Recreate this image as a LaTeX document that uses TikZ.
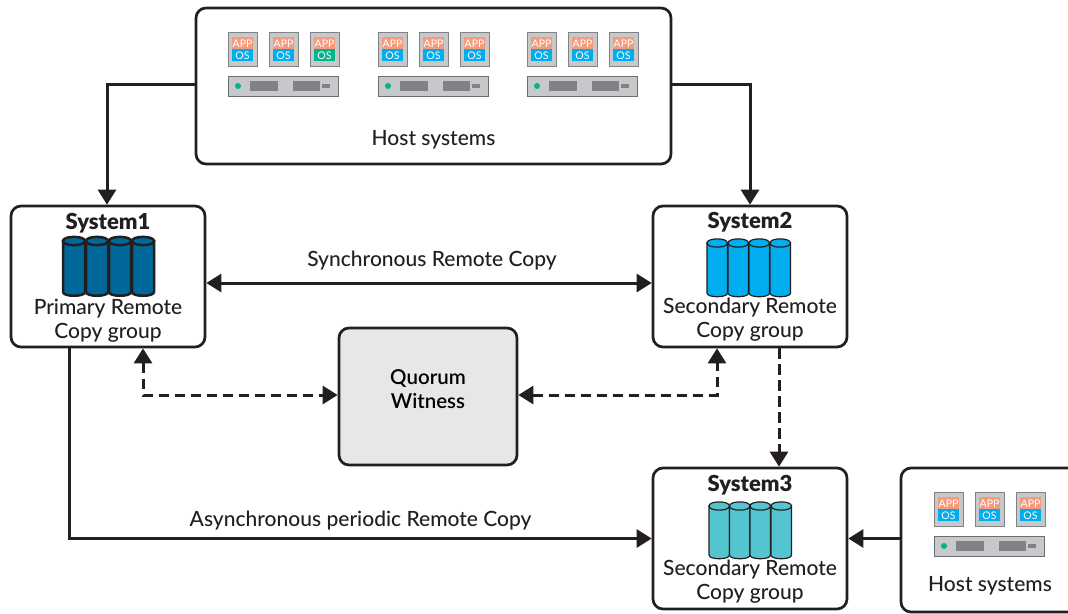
\documentclass[tikz,border=0pt]{standalone}
\usepackage{fontspec}
\setmainfont{Lato}
\newfontfamily\blk{Lato Black}
\newfontfamily\med{Lato Medium}
\newfontfamily\semi{Lato Semibold}
\usetikzlibrary{arrows.meta}
\definecolor{ink}{HTML}{231F20}
\definecolor{appc}{HTML}{F79A7C}
\definecolor{osc}{HTML}{00AEEF}
\definecolor{osg}{HTML}{00B48D}
\definecolor{ic}{HTML}{C6C8CA}
\definecolor{icb}{HTML}{808285}
\definecolor{qc}{HTML}{E6E7E8}
\definecolor{cylA}{HTML}{01689B}
\definecolor{cylC}{HTML}{54C5D0}
\tikzset{
  x=1pt,y=-1pt,
  boxn/.style={draw=ink,line width=2.7pt,rounded corners=10pt,fill=white,inner sep=0pt},
  lab/.style={text=ink,font=\med\fontsize{21}{24}\selectfont,align=center,inner sep=0pt},
  qlab/.style={text=black,font=\semi\fontsize{20.5}{24}\selectfont,align=center,inner sep=0pt},
  tit/.style={text=ink,font=\blk\fontsize{22}{24}\selectfont,align=center,inner sep=0pt},
  conn/.style={draw=ink,line width=3pt,-{Triangle[length=15pt,width=18pt]}},
  conn2/.style={draw=ink,line width=3pt,{Triangle[length=15pt,width=18pt]}-{Triangle[length=15pt,width=18pt]}},
  dconn/.style={conn,dash pattern=on 10.5pt off 5.5pt},
  dconn2/.style={conn2,dash pattern=on 10.5pt off 5.5pt},
  icotxt/.style={text=white,font=\fontsize{10.5}{11}\selectfont,inner sep=0pt},
  app/.pic={
    \fill[ic,draw=icb,line width=1pt] (0,0) rectangle (29,34);
    \fill[appc] (4,5) rectangle (25,17);
    \fill[#1] (4,17) rectangle (25,29);
    \node[icotxt] at (14.5,11.3) {APP};
    \node[icotxt] at (14.5,23.3) {OS};
  },
  server/.pic={
    \fill[ic,draw=icb!85!black,line width=1pt] (0,0) rectangle (110.5,20);
    \fill[osg] (10,10) circle[radius=3pt];
    \fill[icb] (22,5) rectangle (50,15);
    \fill[icb] (65,5) rectangle (92,15);
    \fill[icb] (94,8) rectangle (102,12);
  }
}
\newcommand\cyl[6]{% x, top y, width, height, fill, line width
  \path[draw=ink,fill=#5,line width=#6pt]
    (#1,#2) -- (#1,#2+#4) .. controls (#1,#2+#4+5) and (#1+#3,#2+#4+5) .. (#1+#3,#2+#4) -- (#1+#3,#2) -- cycle;
  \path[draw=ink,fill=#5,line width=#6pt] (#1,#2) .. controls (#1,#2-5.5) and (#1+#3,#2-5.5) .. (#1+#3,#2)
    .. controls (#1+#3,#2+5.5) and (#1,#2+5.5) .. (#1,#2) -- cycle;
}
\begin{document}
\begin{tikzpicture}
\useasboundingbox (0,0) rectangle (1068,613);
% boxes
\node[boxn,minimum width=475pt,minimum height=156pt] (hosttop) at (433.5,86) {};
\node[boxn,minimum width=194pt,minimum height=141pt] (s1) at (108,276.5) {};
\node[boxn,minimum width=194pt,minimum height=141pt] (s2) at (750,276.5) {};
\node[boxn,minimum width=194pt,minimum height=141pt] (s3) at (750,538.5) {};
\node[boxn,fill=qc,minimum width=178pt,minimum height=137pt] (q) at (428,396.5) {};
\node[boxn,minimum width=200pt,minimum height=144pt] (hostb) at (1001,540) {};
% connectors
\draw[conn] ([yshift=2pt]hosttop.west) -| ([xshift=-1pt]s1.north);
\draw[conn] ([yshift=2pt]hosttop.east) -| (s2.north);
\draw[conn2] ([yshift=-6.5pt]s1.east) -- ([yshift=-6.5pt]s2.west);
\draw[dconn2] ([xshift=35pt]s1.south) |- ([yshift=1.5pt]q.west);
\draw[dconn2] ([yshift=1.5pt]q.east) -| ([xshift=-33pt]s2.south);
\draw[dconn] ([xshift=29pt]s2.south) -- ([xshift=29pt]s3.north);
\draw[conn] ([xshift=-39pt]s1.south) |- (s3.west);
\draw[conn] (hostb.west |- s3.west) -- (s3.east);
% labels
\node[lab] (lsync) at (432,261) {Synchronous Remote Copy};
\node[lab] (lasync) at (360.5,521) {Asynchronous periodic Remote Copy};
\node[lab] (lh1) at (433.5,140) {Host systems};
\node[lab] (lh2) at (990,586) {Host systems};
\node[qlab] (lq) at (428,389) {Quorum\\Witness};
\node[tit] (t1) at (108,223) {System1};
\node[tit] (t2) at (750,222) {System2};
\node[tit] (t3) at (750,485) {System3};
\node[lab] (l1) at (108,321) {Primary Remote\\Copy group};
\node[lab] (l2) at (750,320) {Secondary Remote\\Copy group};
\node[lab] (l3) at (750,582) {Secondary Remote\\Copy group};
% cylinders
\foreach \x in {63,86,109,132} {\cyl{\x}{241}{22}{51}{cylA}{2.5}}
\foreach \x in {707,728,749,770} {\cyl{\x}{243}{20.5}{50}{osc}{1.2}}
\foreach \x in {709,729.5,750,771} {\cyl{\x}{506}{20.5}{49}{cylC}{1.2}}
% host icons
\foreach \g in {228,378,527} {
  \pic at (\g,76) {server};
  \foreach \d in {0,41,82} {
    \pgfmathsetmacro\ix{\g+\d}
    \ifnum\g\d=22882 \pic at (\ix,32) {app={osg}}; \else \pic at (\ix,32) {app={osc}}; \fi
  }
}
\foreach \d in {0,41,82} {\pgfmathsetmacro\ix{934+\d}\pic at (\ix,492) {app={osc}};}
\pic at (934,536) {server};
\end{tikzpicture}
\end{document}
